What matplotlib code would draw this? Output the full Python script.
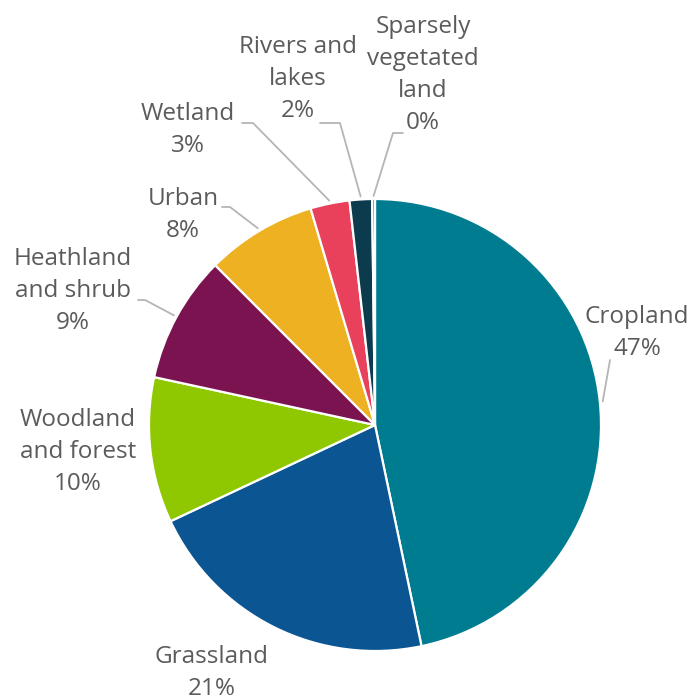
import numpy as np
import matplotlib
matplotlib.use("Agg")
import matplotlib.pyplot as plt

# ---- data ----
categories = ["Cropland", "Grassland", "Woodland\nand forest", "Heathland\nand shrub",
              "Urban", "Wetland", "Rivers and\nlakes", "Sparsely\nvegetated\nland"]
shares = [46.7, 21.3, 10.4, 9.1, 7.9, 2.8, 1.6, 0.2]
colors = ["#007C90", "#0B5593", "#8FC800", "#7B1350", "#EDB121", "#E9405C", "#0C3B4D", "#2E5E6E"]

# ---- layout (pixel units, y downward) ----
W, H = 695, 699
center_px = (375, 425)
radius = 226
# label centers
label_pos = [(637, 333), (212, 673), (78, 452), (73, 291), (183, 215), (188, 130), (298, 79), (423, 75)]
# leader elbows (None = no leader)
leaders = [
    [(610, 360)],
    None,
    None,
    [(138, 300), (145, 300)],
    [(222, 207), (230, 207)],
    [(242, 123), (253, 123)],
    [(320, 123), (340, 123)],
    [(403, 133), (393, 133)],
]

plt.rcParams['font.family'] = ['Open Sans', 'DejaVu Sans']
fig = plt.figure(figsize=(W / 100, H / 100), dpi=100)
ax = fig.add_axes([0, 0, 1, 1])

cx, cy = center_px[0], H - center_px[1]
wedges, _ = ax.pie(shares, colors=colors, startangle=90, counterclock=False,
                   center=(cx, cy), radius=radius, frame=True,
                   wedgeprops=dict(edgecolor='white', linewidth=1.6))
ax.set_xlim(0, W)
ax.set_ylim(0, H)
ax.set_aspect('equal')
ax.axis('off')

text_color = "#5b5b5b"
line_color = "#b5b5b5"
for i, w in enumerate(wedges):
    lx, ly = label_pos[i]
    ax.text(lx, H - ly, f"{categories[i]}\n{shares[i]:.0f}%", ha='center', va='center',
            fontsize=17.5, color=text_color, linespacing=1.43)
    if leaders[i] is not None:
        mid = np.deg2rad((w.theta1 + w.theta2) / 2)
        ax_pt = (cx + (radius + 3) * np.cos(mid), cy + (radius + 3) * np.sin(mid))
        pts = [(x, H - y) for x, y in leaders[i]] + [ax_pt]
        xs, ys = zip(*pts)
        ax.plot(xs, ys, color=line_color, lw=1.3, solid_capstyle='round', zorder=0)

fig.savefig("out.png", dpi=100)
